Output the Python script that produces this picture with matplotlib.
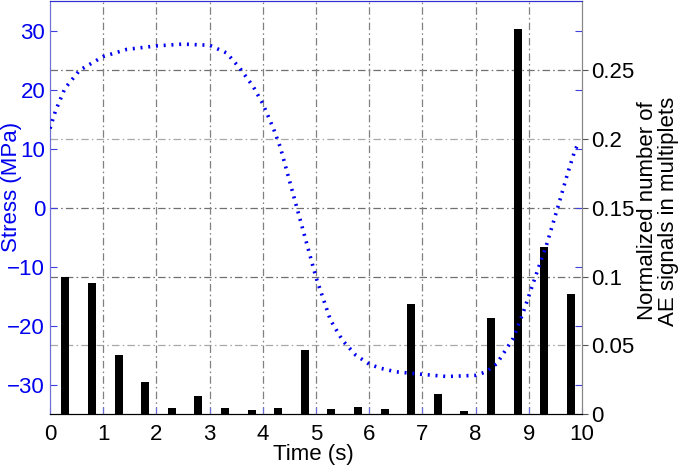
import matplotlib
matplotlib.use("Agg")
import matplotlib.pyplot as plt

plt.rcParams['font.family'] = ['Liberation Sans', 'DejaVu Sans']

# Stress curve (time in s, stress in MPa)
time_s = [0.0, 0.1, 0.28, 0.56, 1.0, 1.44, 2.0, 2.5, 3.0, 3.32, 3.57, 3.82,
          4.0, 4.2, 4.33, 4.64, 5.0, 5.27, 5.5, 5.75, 6.0, 6.21, 6.5, 6.96,
          7.46, 8.0, 8.2, 8.4, 8.71, 8.9, 9.12, 9.33, 9.56, 9.72, 9.87, 9.92]
stress = [13.4, 16.3, 20.2, 23.3, 25.6, 26.8, 27.4, 27.7, 27.5, 26.2, 23.6, 20.5,
          17.6, 13.4, 10.2, 0.0, -11.8, -19.0, -22.5, -25.0, -26.5, -27.2, -27.8, -28.2,
          -28.6, -28.4, -27.8, -26.4, -22.1, -17.6, -11.8, -6.4, 0.5, 5.5, 9.8, 10.6]

# Normalized number of AE signals in multiplets
bar_time = [0.29, 0.79, 1.29, 1.79, 2.29, 2.79, 3.29, 3.79, 4.29, 4.79,
            5.29, 5.79, 6.29, 6.79, 7.29, 7.79, 8.29, 8.79, 9.29, 9.79]
bar_value = [0.100, 0.095, 0.043, 0.0235, 0.0043, 0.0132, 0.0043, 0.0029, 0.0043, 0.0466,
             0.0036, 0.0052, 0.0036, 0.080, 0.015, 0.0027, 0.070, 0.280, 0.1215, 0.0874]

x_ticks = [0, 1, 2, 3, 4, 5, 6, 7, 8, 9, 10]
stress_ticks = [-30, -20, -10, 0, 10, 20, 30]
ae_ticks = [0, 0.05, 0.1, 0.15, 0.2, 0.25]
ae_ticklabels = ['0', '0.05', '0.1', '0.15', '0.2', '0.25']

BLUE = '#0000ee'
FS = 16

fig = plt.figure(figsize=(6.85, 4.69), dpi=100)
ax = fig.add_axes([50/685, 1 - 414.3/469, 532/685, 413.3/469])
ax2 = ax.twinx()

# bars on the right axis
ax2.bar(bar_time, bar_value, width=0.15, color='black', zorder=3)
ax2.set_ylim(0, 0.3)
ax2.set_yticks(ae_ticks)
ax2.set_yticklabels(ae_ticklabels)
ax2.tick_params(axis='y', direction='out', length=4, color='#555555',
                labelsize=FS, labelcolor='black', pad=2.5)
ax2.set_ylabel('Normalized number of\nAE signals in multiplets', fontsize=FS,
               color='black', linespacing=1.0)
ax2.yaxis.set_label_coords(1.1034, 0.492)

dashdot = (0, (6, 2.5, 1.3, 2.5))
grid_colors = ['#707070', '#a8a8a8', '#707070', '#707070', '#a8a8a8', '#707070']
for v, c in zip(ae_ticks[1:], grid_colors[1:]):
    ax2.axhline(v, color=c, lw=0.9, ls=dashdot, zorder=1)
for xv in x_ticks[1:-1]:
    ax2.axvline(xv, color='#808080', lw=0.9, ls=dashdot, zorder=1)

# stress curve on the left axis, drawn above the bars
ax.set_zorder(ax2.get_zorder() + 1)
ax.patch.set_visible(False)
ax.plot(time_s, stress, color=BLUE, lw=2.6, ls=(0, (0.55, 1.6)),
        dash_capstyle='butt', zorder=4)
ax.set_xlim(0, 10)
ax.set_ylim(-35, 35)
ax.set_xticks(x_ticks)
ax.set_yticks(stress_ticks)
ax.tick_params(axis='y', direction='in', length=5, color='#4040e0',
               labelsize=FS, labelcolor=BLUE, right=True, pad=3.5)
ax.tick_params(axis='x', direction='in', length=5, color='#6a6ae0',
               labelsize=FS, labelcolor='black', pad=7)
ax.set_ylabel('Stress (MPa)', fontsize=FS, color=BLUE)
ax.yaxis.set_label_coords(-0.052, 0.549)
ax.set_xlabel('Time (s)', fontsize=FS)
ax.xaxis.set_label_coords(0.496, -0.073)

for a in (ax, ax2):
    a.spines['top'].set_color('#3030d0')
    a.spines['left'].set_color('#7070d8')
    a.spines['right'].set_color('#888888')
    a.spines['bottom'].set_color('black')

fig.savefig('out.png', dpi=100)
